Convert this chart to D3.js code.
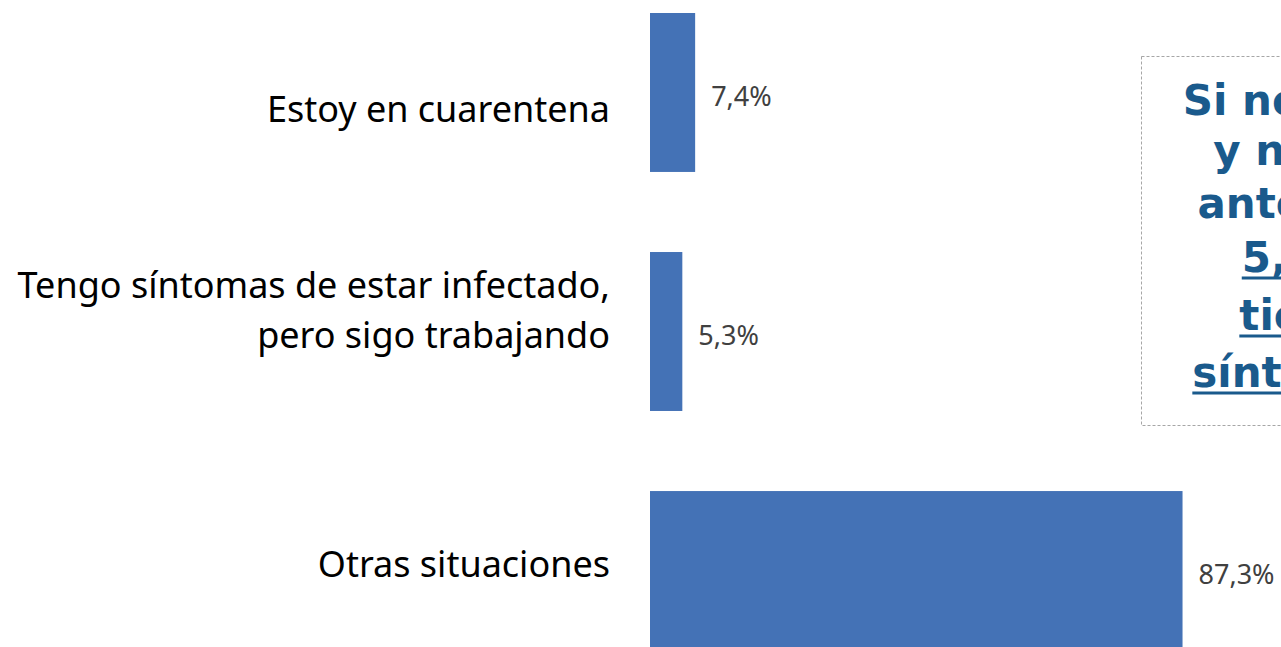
<!DOCTYPE html>
<html>
<head>
<meta charset="utf-8">
<script src="https://cdn.jsdelivr.net/npm/d3@7"></script>
<style>
  body { margin: 0; background: #fff; overflow: hidden; }
</style>
</head>
<body>
<script>
// datos del gráfico
var categories = ["Estoy en cuarentena", "Tengo síntomas de estar infectado,\npero sigo trabajando", "Otras situaciones"];
var values = [7.4, 5.3, 87.3];
var valueLabels = ["7,4%", "5,3%", "87,3%"];
var noteLines = ["Si no está", "y no ha", "antes de", "5,3%", "tiene", "síntomas"];
var noteUnderlined = [false, false, false, true, true, true];

var width = 1281;
var height = 647;

var svg = d3.select("body").append("svg")
    .attr("width", width)
    .attr("height", height);

var x = d3.scaleLinear()
    .domain([0, 100])
    .range([650, 1260]);

var y = d3.scaleBand()
    .domain(categories)
    .range([13, 650])
    .paddingInner(0.335)
    .paddingOuter(0);

// desplazamiento vertical de las etiquetas (cajas de texto del original)
var labelShift = [16, -22, -7];

svg.selectAll("rect.bar")
    .data(values)
    .enter()
    .append("rect")
    .attr("class", "bar")
    .attr("x", x(0))
    .attr("y", function(d, i) { return y(categories[i]); })
    .attr("width", function(d) { return x(d) - x(0); })
    .attr("height", y.bandwidth())
    .attr("fill", "#4472B6");

svg.selectAll("text.value")
    .data(values)
    .enter()
    .append("text")
    .attr("class", "value")
    .attr("x", function(d) { return x(d) + 16; })
    .attr("y", function(d, i) { return y(categories[i]) + y.bandwidth() / 2 + 3; })
    .attr("dominant-baseline", "central")
    .attr("font-family", "Noto Sans, sans-serif")
    .attr("font-size", 27)
    .attr("fill", "#404040")
    .text(function(d, i) { return valueLabels[i]; });

var cats = svg.selectAll("text.cat")
    .data(categories)
    .enter()
    .append("text")
    .attr("class", "cat")
    .attr("text-anchor", "end")
    .attr("font-family", "Noto Sans, sans-serif")
    .attr("font-size", 36)
    .attr("fill", "#000");

cats.each(function(d, i) {
    var lines = d.split("\n");
    var cy = y(d) + y.bandwidth() / 2 + labelShift[i];
    var lh = 50;
    var t = d3.select(this);
    lines.forEach(function(l, j) {
        t.append("tspan")
            .attr("x", 610)
            .attr("y", cy + (j - (lines.length - 1) / 2) * lh)
            .attr("dominant-baseline", "central")
            .text(l);
    });
});

// recuadro de nota a la derecha
var note = svg.append("g");
note.append("rect")
    .attr("x", 1141.5)
    .attr("y", 56.5)
    .attr("width", 320)
    .attr("height", 369)
    .attr("fill", "none")
    .attr("stroke", "#a6a6a6")
    .attr("stroke-dasharray", "3,2");

var noteX = 1300;
var noteBase = [115, 165, 218, 272, 330, 387];
noteLines.forEach(function(l, i) {
    var t = note.append("text")
        .attr("x", noteX)
        .attr("y", noteBase[i])
        .attr("text-anchor", "middle")
        .attr("font-family", "Comic Sans MS, DejaVu Sans, sans-serif")
        .attr("font-weight", "bold")
        .attr("font-size", 42)
        .attr("fill", "#1A5A8C")
        .text(l);
    if (noteUnderlined[i]) {
        var w = t.node().getComputedTextLength();
        note.append("line")
            .attr("x1", noteX - w / 2)
            .attr("x2", noteX + w / 2)
            .attr("y1", noteBase[i] + 6)
            .attr("y2", noteBase[i] + 6)
            .attr("stroke", "#1A5A8C")
            .attr("stroke-width", 3);
    }
});
</script>
</body>
</html>
